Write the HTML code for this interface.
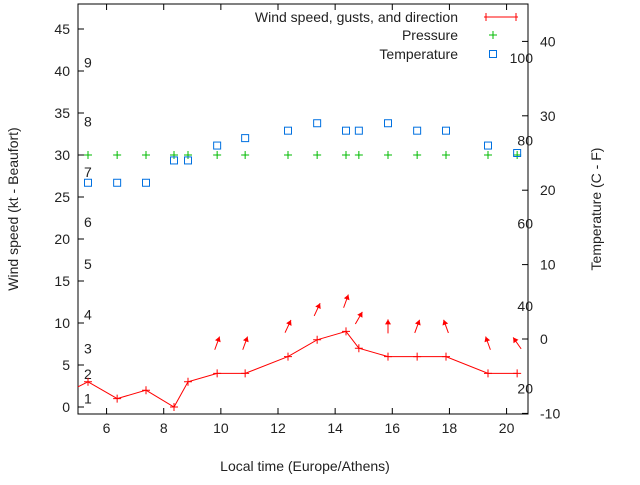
<!DOCTYPE html>
<html><head><meta charset="utf-8"><style>
body{margin:0;background:#fff}
svg text{font-family:"Liberation Sans",sans-serif;font-size:14px;fill:#222}
</style></head><body>
<svg id="c" width="640" height="480" xmlns="http://www.w3.org/2000/svg"></svg>
<script>
const times=[5.35,6.37,7.38,8.36,8.85,9.87,10.85,12.35,13.37,14.38,14.83,15.85,16.87,17.88,19.35,20.37];
const wind=[3,1,2,0,3,4,4,6,8,9,7,6,6,6,4,4];
const pressure=[30,30,30,30,30,30,30,30,30,30,30,30,30,30,30,30];
const temp=[21,21,21,24,24,26,27,28,29,28,28,29,28,28,26,25];
const arrowTimes=[9.87,10.85,12.35,13.37,14.38,14.83,15.85,16.87,17.88,19.35,20.37];
const arrowSpeed=[4,4,6,8,9,7,6,6,6,4,4];
const arrowDir=[20,20,25,25,20,30,0,20,-20,-20,-35];
const xTicks=[6,8,10,12,14,16,18,20];
const yTicks=[0,5,10,15,20,25,30,35,40,45];
const tTicks=[-10,0,10,20,30,40];
const bft=[[1,1],[2,3.95],[3,6.95],[4,11],[5,17],[6,22],[7,28],[8,34],[9,41]];
const fTicks=[20,40,60,80,100];
const L=78,R=528,T=4,B=414;
const X=t=>L+(t-5)/(20.75-5)*(R-L);
const Y=v=>407-v*8.4;
const YT=v=>339-v*7.44;
const s=document.getElementById('c');const NS='http://www.w3.org/2000/svg';
function el(tag,a,txt){const e=document.createElementNS(NS,tag);for(const k in a)e.setAttribute(k,a[k]);if(txt!=null)e.textContent=txt;s.appendChild(e);return e;}
let e=el('rect',{x:L,y:T,width:R-L,height:B-T,fill:'none',stroke:'#000'});


xTicks.forEach(t=>{el('line',{x1:X(t),x2:X(t),y1:B,y2:B-6,stroke:'#000'});el('line',{x1:X(t),x2:X(t),y1:T,y2:T+6,stroke:'#000'});
 e=el('text',{x:X(t),y:B+19,'text-anchor':'middle'},t);});
yTicks.forEach(v=>{el('line',{x1:L,x2:L+6,y1:Y(v),y2:Y(v),stroke:'#000'});
 e=el('text',{x:L-8,y:Y(v)+5,'text-anchor':'end'},v);});
tTicks.forEach(v=>{el('line',{x1:R-6,x2:R,y1:YT(v),y2:YT(v),stroke:'#000'});
 e=el('text',{x:R+12,y:YT(v)+5},v);});
bft.forEach(b=>{e=el('text',{x:84,y:Y(b[1])+5},b[0]);});
fTicks.forEach(f=>{e=el('text',{x:533,y:YT((f-32)/1.8)+5,'text-anchor':'end'},f);});
e=el('text',{x:305,y:471,'text-anchor':'middle'},'Local time (Europe/Athens)');
e=el('text',{x:18,y:209,'text-anchor':'middle',transform:'rotate(-90 18 209)'},'Wind speed (kt - Beaufort)');
e=el('text',{x:601,y:209,'text-anchor':'middle',transform:'rotate(-90 601 209)'},'Temperature (C - F)');
let pts=times.map((t,i)=>X(t)+','+Y(wind[i]));
e=el('polyline',{points:(L)+','+Y(2.4)+' '+pts.join(' '),fill:'none',stroke:'#f00'});
times.forEach((t,i)=>{const x=X(t),y=Y(wind[i]);e=el('path',{d:`M${x-4} ${y}h8M${x} ${y-4}v8`,stroke:'#f00'});});
arrowTimes.forEach((t,i)=>{const a=arrowDir[i]*Math.PI/180,cx=X(t),cy=Y(arrowSpeed[i]+3.6);const dx=Math.sin(a)*7,dy=-Math.cos(a)*7;
 const hx=cx+dx,hy=cy+dy;const g=el('g',{});
 const l=document.createElementNS(NS,'line');l.setAttribute('x1',cx-dx);l.setAttribute('y1',cy-dy);l.setAttribute('x2',hx);l.setAttribute('y2',hy);l.setAttribute('stroke','#f00');g.appendChild(l);
 const p=document.createElementNS(NS,'polygon');const ux=dx/7,uy=dy/7;
 p.setAttribute('points',`${hx},${hy} ${hx-ux*5-uy*3},${hy-uy*5+ux*3} ${hx-ux*5+uy*3},${hy-uy*5-ux*3}`);p.setAttribute('fill','#f00');g.appendChild(p);});
times.forEach((t,i)=>{const x=X(t),y=Y(pressure[i]);e=el('path',{d:`M${x-4} ${y}h8M${x} ${y-4}v8`,stroke:'#0b0'});});
times.forEach((t,i)=>{const x=X(t),y=YT(temp[i]);e=el('rect',{x:x-3.5,y:y-3.5,width:7,height:7,fill:'none',stroke:'#0070e0'});});
const leg=[['Wind speed, gusts, and direction',17,'w'],['Pressure',35,'p'],['Temperature',54,'t']];
leg.forEach(l=>{e=el('text',{x:458,y:l[1]+5,'text-anchor':'end'},l[0]);
 const y=l[1];
 if(l[2]=='w'){el('path',{d:`M484 ${y}h34M486 ${y-4}v8M516 ${y-4}v8`,stroke:'#f00'});}
 if(l[2]=='p'){el('path',{d:`M489 ${y}h8M493 ${y-4}v8`,stroke:'#0b0'});}
 if(l[2]=='t'){el('rect',{x:489.5,y:y-3.5,width:7,height:7,fill:'none',stroke:'#0070e0'});}});
</script>
</body></html>
